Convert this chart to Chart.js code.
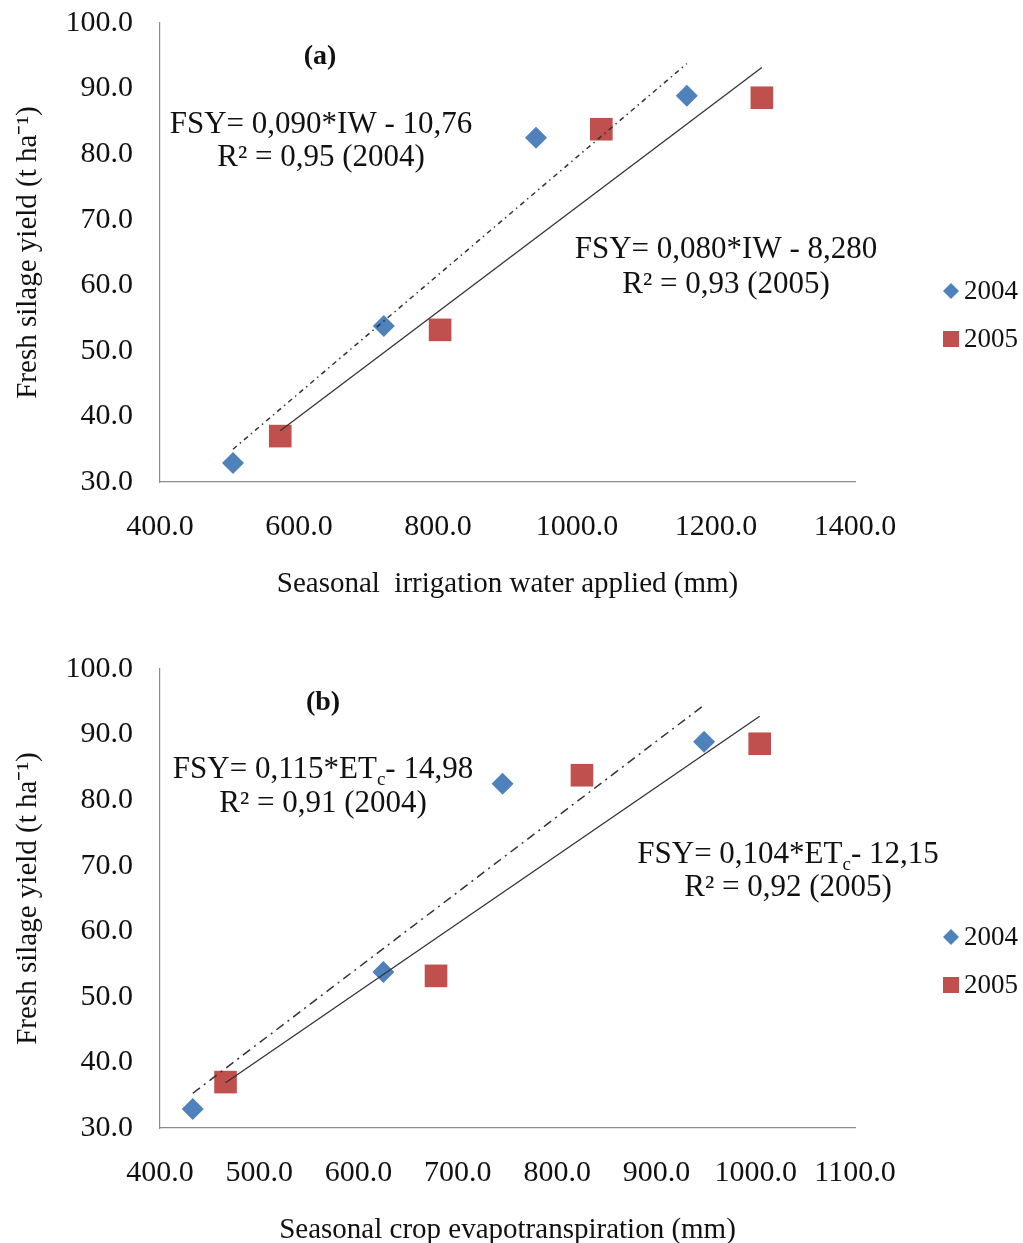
<!DOCTYPE html>
<html>
<head>
<meta charset="utf-8">
<script src="https://cdn.jsdelivr.net/npm/chart.js@4.4.1/dist/chart.umd.min.js"></script>
<style>
  html, body { margin: 0; padding: 0; background: #fff; overflow: hidden; }
  canvas { display: block; }
</style>
</head>
<body>
<canvas id="chartA" width="1023" height="646"></canvas>
<canvas id="chartB" width="1023" height="646"></canvas>
<script>
// fresh silage yield (t/ha), same for both panels
const yield2004 = [32.9, 53.8, 82.5, 88.9]
const yield2005 = [37.0, 53.2, 83.8, 88.6]

// panel (a): seasonal irrigation water applied (mm)
const irrigation2004 = [505, 722, 941, 1158]
const irrigation2005 = [573, 803, 1035, 1266]

// panel (b): seasonal crop evapotranspiration (mm)
const etc2004 = [433, 625, 745, 948]
const etc2005 = [466, 678, 825, 1004]

// trend line end points
const trendA2004X = [505, 1158]
const trendA2004Y = [35.0, 93.8]
const trendA2005X = [573, 1266]
const trendA2005Y = [37.8, 93.2]
const trendB2004X = [433, 948]
const trendB2004Y = [35.3, 94.5]
const trendB2005X = [466, 1004]
const trendB2005Y = [36.9, 92.8]

const seriesLabels = ["2004", "2005"]

const FONT = "'Liberation Serif', 'Times New Roman', serif"
const blue = "#4F81BD"
const red = "#C0504D"
const axisColor = "#8c8c8c"
const textColor = "#111"

const toPoints = (xs, ys) => xs.map((x, i) => ({ x, y: ys[i] }))

// draws the two-entry legend on the right
const sideLegend = {
  id: "sideLegend",
  afterDraw(chart) {
    const ctx = chart.ctx
    ctx.save()
    ctx.font = "27px " + FONT
    ctx.textBaseline = "middle"
    const rows = [291, 339]
    chart.data.datasets.slice(0, 2).forEach((ds, i) => {
      const cx = 951, cy = rows[i]
      ctx.fillStyle = ds.backgroundColor
      ctx.beginPath()
      if (ds.pointStyle === "rectRot") {
        ctx.moveTo(cx - 8, cy); ctx.lineTo(cx, cy - 8); ctx.lineTo(cx + 8, cy); ctx.lineTo(cx, cy + 8)
      } else {
        ctx.rect(cx - 8, cy - 8, 16, 16)
      }
      ctx.closePath()
      ctx.fill()
      ctx.fillStyle = textColor
      ctx.fillText(ds.label, 964, cy + 1)
    })
    ctx.restore()
  }
}

// regression equations and panel letter
const notes = {
  id: "notes",
  afterDraw(chart, args, opts) {
    const ctx = chart.ctx
    ctx.save()
    ctx.fillStyle = textColor
    ctx.textBaseline = "middle"
    ctx.font = "bold 28px " + FONT
    ctx.textAlign = "center"
    ctx.fillText(opts.letter, opts.letterX, 57)
    ctx.textAlign = "left"
    opts.lines.forEach(line => {
      const main = "31px " + FONT, small = "19px " + FONT
      let w = 0
      line.parts.forEach(p => { ctx.font = p.sub ? small : main; w += ctx.measureText(p.t).width })
      let x = line.x - w / 2
      line.parts.forEach(p => {
        ctx.font = p.sub ? small : main
        ctx.fillText(p.t, x, p.sub ? line.y + 10 : line.y)
        x += ctx.measureText(p.t).width
      })
    })
    ctx.restore()
  }
}

function makeChart(id, xs04, xs05, t04x, t04y, t05x, t05y, xMax, xStep, xTitle, dash04, noteOpts) {
  return new Chart(document.getElementById(id), {
    type: "scatter",
    data: {
      datasets: [
        { label: seriesLabels[0], data: toPoints(xs04, yield2004), pointStyle: "rectRot", pointRadius: 11,
          backgroundColor: blue, borderColor: blue, borderWidth: 0, order: 1 },
        { label: seriesLabels[1], data: toPoints(xs05, yield2005), pointStyle: "rect", pointRadius: 16,
          backgroundColor: red, borderColor: red, borderWidth: 0, order: 2 },
        { type: "line", data: toPoints(t04x, t04y), borderColor: "#333", borderWidth: 1.5, borderDash: dash04,
          pointRadius: 0, fill: false, order: 0 },
        { type: "line", data: toPoints(t05x, t05y), borderColor: "#333", borderWidth: 1.3,
          pointRadius: 0, fill: false, order: 0 }
      ]
    },
    options: {
      responsive: false,
      animation: false,
      devicePixelRatio: 1,
      layout: { autoPadding: false, padding: { top: 23, right: 168, left: 0, bottom: 0 } },
      plugins: {
        legend: { display: false },
        tooltip: { enabled: false },
        notes: noteOpts
      },
      scales: {
        x: {
          type: "linear", min: 400, max: xMax,
          grid: { display: false, drawTicks: false },
          border: { display: true, color: axisColor, width: 1.2 },
          ticks: { stepSize: xStep, padding: 27, color: textColor, maxRotation: 0, autoSkip: false,
                   font: { family: FONT, size: 30 }, callback: v => v.toFixed(1) },
          title: { display: true, text: xTitle, color: textColor, padding: { top: 0, bottom: 44 },
                   font: { family: FONT, size: 29 } },
          afterFit: s => { s.height = 164; s.paddingLeft = 0; s.paddingRight = 0 }
        },
        y: {
          min: 30, max: 100,
          grid: { display: false, drawTicks: false },
          border: { display: true, color: axisColor, width: 1.2 },
          ticks: { stepSize: 10, padding: 27, color: textColor,
                   font: { family: FONT, size: 30 }, callback: v => v.toFixed(1) },
          title: { display: true, text: "Fresh silage yield (t ha⁻¹)", color: textColor, padding: { top: 11, bottom: 0 },
                   font: { family: FONT, size: 29 } },
          afterFit: s => { s.width = 160; s.paddingTop = 0; s.paddingBottom = 0 }
        }
      }
    },
    plugins: [sideLegend, notes]
  })
}

makeChart("chartA", irrigation2004, irrigation2005, trendA2004X, trendA2004Y, trendA2005X, trendA2005Y,
  1400, 200, "Seasonal  irrigation water applied (mm)", [5, 4, 1.5, 4], {
    letter: "(a)", letterX: 320,
    lines: [
      { x: 321, y: 125, parts: [{ t: "FSY= 0,090*IW - 10,76" }] },
      { x: 321, y: 158, parts: [{ t: "R² = 0,95 (2004)" }] },
      { x: 726, y: 250, parts: [{ t: "FSY= 0,080*IW - 8,280" }] },
      { x: 726, y: 285, parts: [{ t: "R² = 0,93 (2005)" }] }
    ]
  })

makeChart("chartB", etc2004, etc2005, trendB2004X, trendB2004Y, trendB2005X, trendB2005Y,
  1100, 100, "Seasonal crop evapotranspiration (mm)", [9, 5, 2, 5], {
    letter: "(b)", letterX: 323,
    lines: [
      { x: 323, y: 124, parts: [{ t: "FSY= 0,115*ET" }, { t: "c", sub: true }, { t: "- 14,98" }] },
      { x: 323, y: 158, parts: [{ t: "R² = 0,91 (2004)" }] },
      { x: 788, y: 209, parts: [{ t: "FSY= 0,104*ET" }, { t: "c", sub: true }, { t: "- 12,15" }] },
      { x: 788, y: 242, parts: [{ t: "R² = 0,92 (2005)" }] }
    ]
  })
</script>
</body>
</html>
